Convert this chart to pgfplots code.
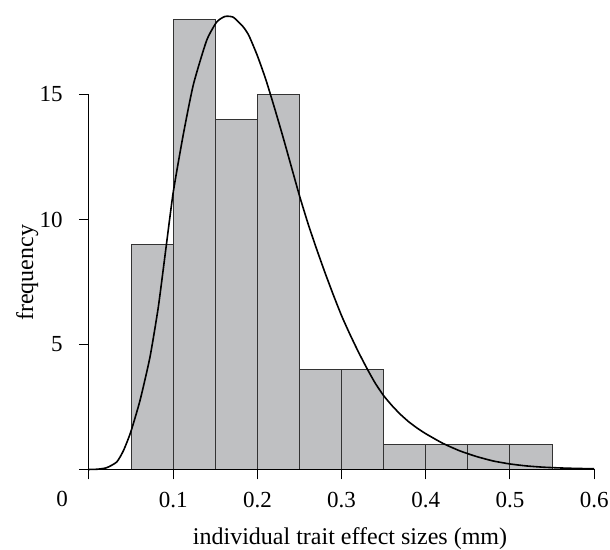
\documentclass[border=0pt]{standalone}
\usepackage{fontspec}
\setmainfont{Liberation Serif}
\usepackage{pgfplots}
\pgfplotsset{compat=1.18}
\definecolor{barfill}{HTML}{BFC0C2}
\definecolor{baredge}{HTML}{333333}

\begin{document}
\begin{tikzpicture}
\begin{axis}[
  x=421pt, y=12.5pt,
  xmin=0, xmax=0.6, ymin=0, ymax=18.3,
  axis lines=left,
  axis line style={draw=none},
  clip=false,
  tick align=outside,
  major tick length=5pt,
  tick style={black, line width=0.5pt},
  xtick={0,0.1,0.2,0.3,0.4,0.5,0.6},
  xticklabels={,0.1,0.2,0.3,0.4,0.5,0.6},
  ytick={0,5,10,15},
  yticklabels={,5,10,15},
  xticklabel shift=3pt,
  yticklabel shift=4.6pt,
  /pgf/number format/assume math mode=true,
  tick label style={font=\fontsize{11.5}{13}\selectfont},
  label style={font=\fontsize{12}{14}\selectfont, inner sep=0pt},
  xlabel={individual trait effect sizes (mm)},
  ylabel={frequency},
  xlabel style={at={(rel axis cs:0.5167,-0.1508)}, anchor=center},
  ylabel style={at={(rel axis cs:-0.122,0.4295)}, anchor=center},
]
% histogram
\addplot[ybar interval, fill=barfill, draw=baredge, line width=0.5pt]
  coordinates {(0.05,9) (0.10,18) (0.15,14) (0.20,15) (0.25,4) (0.30,4)
               (0.35,1) (0.40,1) (0.45,1) (0.50,1) (0.55,1)};
% fitted density
\addplot[black, line width=0.8pt, smooth, tension=0.35] coordinates {
  (0,0) (0.01,0.01) (0.021,0.07) (0.033,0.3) (0.041,0.76) (0.0495,1.49)
  (0.0606,2.76) (0.0724,4.49) (0.0823,6.49) (0.0912,8.8) (0.1001,11.1)
  (0.112,13.4) (0.124,15.4) (0.1397,17.16) (0.1517,17.9) (0.1615,18.12)
  (0.1714,18.09) (0.1833,17.7) (0.19,17.35) (0.20,16.55) (0.21,15.6)
  (0.22,14.5) (0.23,13.35) (0.24,12.15) (0.25,10.95) (0.26,9.85) (0.27,8.85)
  (0.28,7.9) (0.29,7.0) (0.30,6.15) (0.31,5.4) (0.32,4.7) (0.33,4.05)
  (0.34,3.45) (0.35,2.95) (0.36,2.55) (0.37,2.2) (0.38,1.9) (0.39,1.65)
  (0.40,1.43) (0.42,1.05) (0.44,0.75) (0.46,0.52) (0.48,0.34) (0.50,0.22)
  (0.52,0.14) (0.54,0.09) (0.56,0.06) (0.58,0.04) (0.60,0.03)};
% axis lines as in the original
\draw[black, line width=0.5pt] (axis cs:0,0) -- (axis cs:0,15);
\draw[black, line width=0.5pt] (axis cs:0,0) -- (axis cs:0.6,0);
\node[anchor=north, yshift=-7.5pt, font=\fontsize{11.5}{13}\selectfont] at (axis cs:-0.032,0) {0};
% page frame
\coordinate (frameBL) at (axis cs:-0.1057,-3.22);
\coordinate (frameTR) at (axis cs:0.6188,18.78);
\end{axis}
\pgfresetboundingbox
\path (frameBL) rectangle (frameTR);
\end{tikzpicture}
\end{document}
